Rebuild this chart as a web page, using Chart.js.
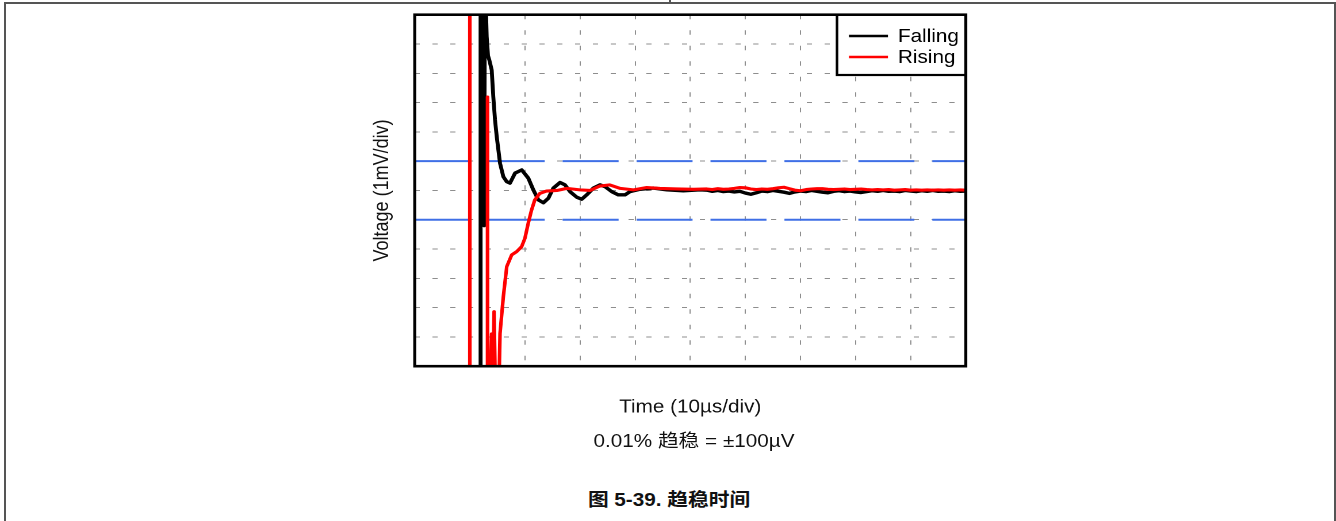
<!DOCTYPE html>
<html>
<head>
<meta charset="utf-8">
<script src="https://cdn.jsdelivr.net/npm/chart.js@4.4.1/dist/chart.umd.min.js"></script>
<style>
  body { margin: 0; background: #fff; }
  #page { position: relative; width: 1336px; height: 521px; overflow: hidden; background: #fff; }
  #frame { position: absolute; left: 4px; top: 2px; width: 1328px; height: 540px;
           border: 2px solid #555; border-bottom: none; }
  #tick { position: absolute; left: 669px; top: 0; width: 2px; height: 3px; background: #555; }
  #wrap { position: absolute; left: 360px; top: 0; width: 540px; height: 430px;
          transform: scaleX(1.15); transform-origin: 0 0; }
  .cap { position: absolute; width: 400px; text-align: center; line-height: 24px;
         font-family: "Liberation Sans", Arial, "Noto Sans CJK SC", sans-serif; font-size: 18px;
         color: #111; transform: scaleX(1.15); transform-origin: 50% 50%; white-space: nowrap; }
</style>
</head>
<body>
<div id="page">
  <div id="frame"></div>
  <div id="tick"></div>
  <div id="wrap"><canvas id="myChart" width="540" height="430"></canvas></div>
  <div class="cap" style="left:494px; top:429px;">0.01% 趋稳 = ±100µV</div>
  <div class="cap" style="left:469px; top:488px; font-weight:bold;">图 5-39. 趋稳时间</div>
</div>
<script>
// time in µs (10 µs/div), voltage in mV (1 mV/div), both relative to the settled value
const fallingTime = [11.95, 11.95, 12.3, 12.55, 12.6, 12.75, 12.8, 13.06, 13.3, 13.54, 13.97, 14.26, 14.57, 14.88,
  15.48, 16.08, 16.69, 17.29, 18.2, 19.42, 20.61, 21.52, 22.43, 23.34, 24.24, 25.15, 26.37, 27.27, 28.18,
  29.4, 30.31, 31.21, 32.41, 33.62, 34.53, 35.75, 36.94, 38.16, 39.06, 40.88, 43.3, 45.73, 48.74, 51.77,
  53, 54, 55, 56, 57, 58, 59, 60, 61, 62, 63, 64, 65, 66, 67, 68, 69, 70, 71, 72, 73, 74, 75, 76,
  77, 78, 79, 80, 81, 82, 83, 84, 85, 86, 87, 88, 89, 90, 91, 92, 93, 94, 95, 96, 97, 98, 99, 100];
const fallingVolt = [-7.5, 7.5, -1.1, 7.5, -1.2, 7.5, 7.0, 5.25, 4.6, 4.45, 4.11, 3.2, 2.41, 1.84,
  0.93, 0.47, 0.30, 0.25, 0.59, 0.70, 0.42, 0.02, -0.32, -0.42, -0.27, 0.08, 0.27, 0.19, -0.04,
  -0.23, -0.30, -0.15, 0.08, 0.19, 0.13, -0.04, -0.15, -0.15, -0.04, 0.04, 0.08, 0.02, -0.01, 0.02,
  0.01, -0.03, 0.0, -0.04, -0.02, -0.05, -0.03, -0.09, -0.13, -0.08, -0.02, -0.04, 0.0, -0.03, -0.06, -0.10, -0.05, -0.02, -0.04, 0.0, -0.03, -0.06, -0.08, -0.03,
  -0.01, -0.04, -0.02, -0.05, -0.07, -0.04, -0.01, -0.03, 0.0, -0.03, -0.02, -0.04, 0.0, -0.02, -0.04, -0.01, -0.03, 0.0, -0.03, -0.02, -0.04, -0.01, -0.03, -0.02];

const risingTime = [10.0, 10.0, 11.0, 13.21, 13.21, 13.6, 13.95, 14.1, 14.4, 14.7, 15.2, 15.48, 16.08, 16.7,
  17.6, 18.5, 19.4, 20.0, 20.6, 21.2, 21.8, 22.7, 23.9, 25.8, 27.6, 30.0, 31.8, 33.6, 35.4, 37.3,
  39.7, 42.1, 44.5, 47.5, 50.6,
  53, 54, 55, 56, 57, 58, 59, 60, 61, 62, 63, 64, 65, 66, 67, 68, 69, 70, 71, 72, 73, 74, 75, 76,
  77, 78, 79, 80, 81, 82, 83, 84, 85, 86, 87, 88, 89, 90, 91, 92, 93, 94, 95, 96, 97, 98, 99, 100];
const risingVolt = [-7.5, 7.5, null, 3.19, -7.5, -7.5, -4.9, -7.5, -4.14, -7.5, -7.5, -4.88, -3.63, -2.6,
  -2.2, -2.09, -1.92, -1.63, -1.12, -0.67, -0.32, -0.1, -0.02, 0.0, 0.07, 0.02, 0.0, 0.15, 0.19, 0.07,
  0.02, 0.1, 0.07, 0.05, 0.04,
  0.05, 0.03, 0.06, 0.04, 0.05, 0.07, 0.10, 0.09, 0.05, 0.03, 0.05, 0.04, 0.06, 0.09, 0.11, 0.06, 0.01, -0.01, 0.03, 0.05, 0.06, 0.06, 0.04, 0.03,
  0.04, 0.05, 0.03, 0.04, 0.05, 0.03, 0.02, 0.03, 0.02, 0.03, 0.01, 0.02, 0.03, 0.01, 0.02, 0.01, 0.02, 0.01, 0.02, 0.01, 0.02, 0.01, 0.02, 0.01];

// settling band limits
const bandTime = [0, 100];
const bandUpper = [1, 1];
const bandLower = [-1, -1];

const FONT = '"Liberation Sans", Arial, sans-serif';
const BAND_COLOR = '#3f6fe6';

function toPoints(xs, ys) {
  return xs.map((x, i) => ({ x: x, y: ys[i] }));
}

// draws the plot frame and the boxed legend in the top right corner
const frameLegend = {
  id: 'frameLegend',
  afterDatasetsDraw(chart) {
    const ctx = chart.ctx;
    const a = chart.chartArea;
    ctx.save();

    const w = 112, h = 60.3;
    const bx = a.right - w, by = a.top;
    ctx.fillStyle = '#fff';
    ctx.fillRect(bx, by, w, h);
    ctx.strokeStyle = '#000';
    ctx.lineWidth = 2.2;
    ctx.strokeRect(bx, by, w, h);

    ctx.font = '18px ' + FONT;
    ctx.textBaseline = 'middle';
    const items = chart.data.datasets.filter(d => d.label);
    items.forEach((d, i) => {
      const y = by + 21.3 + i * 21;
      ctx.strokeStyle = d.borderColor;
      ctx.lineWidth = 2.5;
      ctx.beginPath();
      ctx.moveTo(bx + 10.4, y);
      ctx.lineTo(bx + 44.3, y);
      ctx.stroke();
      ctx.fillStyle = '#000';
      ctx.fillText(d.label, bx + 53, y + 1);
    });

    ctx.strokeStyle = '#000';
    ctx.lineWidth = 2.6;
    ctx.strokeRect(a.left, a.top, a.right - a.left, a.bottom - a.top);
    ctx.restore();
  }
};

const ctx = document.getElementById('myChart').getContext('2d');
new Chart(ctx, {
  type: 'line',
  data: {
    datasets: [
      { label: 'Falling', data: toPoints(fallingTime, fallingVolt), borderColor: '#000000',
        borderWidth: 3.4, order: 1 },
      { label: 'Rising', data: toPoints(risingTime, risingVolt), borderColor: '#ff0000',
        borderWidth: 3.1, order: 0 },
      { label: '', data: toPoints(bandTime, bandUpper), borderColor: BAND_COLOR,
        borderWidth: 2, borderDash: [48.7, 15.6], order: 2 },
      { label: '', data: toPoints(bandTime, bandLower), borderColor: BAND_COLOR,
        borderWidth: 2, borderDash: [48.7, 15.6], order: 2 },
    ]
  },
  options: {
    responsive: false,
    animation: false,
    devicePixelRatio: 2,
    layout: { padding: { left: 4.97, right: 13.22, top: 14.7, bottom: 7.7 } },
    elements: {
      point: { radius: 0, hoverRadius: 0 },
      line: { tension: 0, borderJoinStyle: 'round', borderCapStyle: 'butt' },
    },
    scales: {
      x: {
        type: 'linear',
        min: 0,
        max: 100,
        ticks: { display: false, stepSize: 10 },
        grid: { color: '#8e8e8e', lineWidth: 1, drawTicks: false },
        border: { display: false, dash: [4.5, 11] },
        title: { display: true, text: 'Time (10µs/div)', color: '#111',
                 font: { family: FONT, size: 18 }, padding: { top: 30.5, bottom: 4 } },
      },
      y: {
        min: -6,
        max: 6,
        ticks: { display: false, stepSize: 1 },
        grid: { color: '#8e8e8e', lineWidth: 1, drawTicks: false },
        border: { display: false, dash: [4.5, 11] },
        title: { display: true, text: 'Voltage (1mV/div)', color: '#111',
                 font: { family: FONT, size: 18 }, padding: { top: 4, bottom: 17 } },
      },
    },
    plugins: {
      legend: { display: false },
      tooltip: { enabled: false },
    },
  },
  plugins: [frameLegend],
});
</script>
</body>
</html>
